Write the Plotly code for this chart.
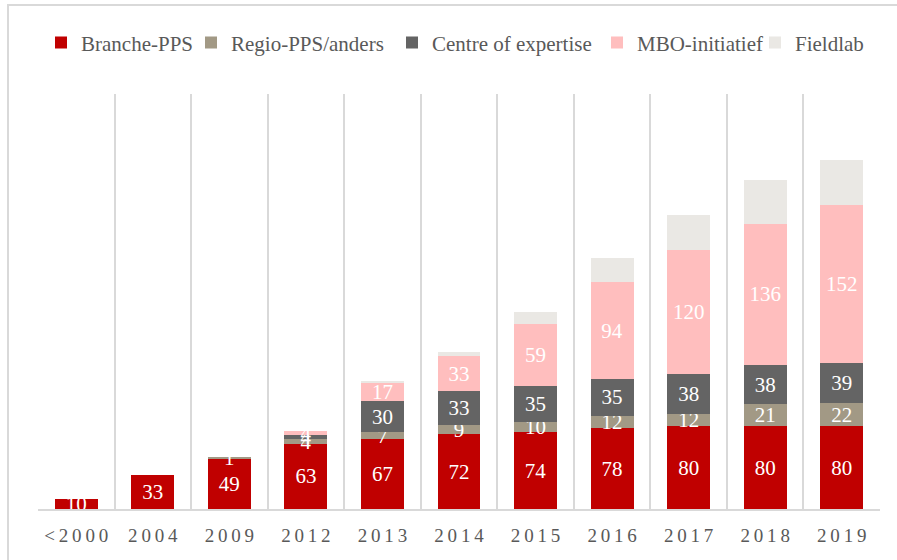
import plotly.graph_objects as go

categorieen = ['<2000', '2004', '2009', '2012', '2013', '2014', '2015', '2016', '2017', '2018', '2019']

branche_pps = [10, 33, 49, 63, 67, 72, 74, 78, 80, 80, 80]
regio_pps = [0, 0, 1, 4, 7, 9, 10, 12, 12, 21, 22]
centre_of_expertise = [0, 0, 0, 4, 30, 33, 35, 35, 38, 38, 39]
mbo_initiatief = [0, 0, 0, 4, 17, 33, 59, 94, 120, 136, 152]
fieldlab = [0, 0, 0, 0, 2, 4, 12, 23, 33, 42, 43]

reeksen = [
    ('Branche-PPS', branche_pps, '#C00000', True),
    ('Regio-PPS/anders', regio_pps, '#A29985', True),
    ('Centre of expertise', centre_of_expertise, '#646464', True),
    ('MBO-initiatief', mbo_initiatief, '#FFBEBE', True),
    ('Fieldlab', fieldlab, '#EAE8E4', False),
]

FONT = 'Liberation Serif, Times New Roman, serif'
GRIJS = '#D9D9D9'

# plotgebied in pixels (voor het plaatsen van de legenda's)
L, R, T, B = 38, 17, 94, 51
PLOT_W = 897 - L - R
# x-positie (px) waar de tekst van elk legenda-item begint
legenda_tekst_x = [81, 231, 432, 637, 795]

fig = go.Figure()
for i, (naam, waarden, kleur, labels) in enumerate(reeksen):
    # lege labels voor nulwaarden, Fieldlab zonder labels
    tekst = [str(v) if (labels and v > 0) else '' for v in waarden]
    fig.add_trace(go.Bar(
        x=categorieen, y=waarden, name=naam,
        marker=dict(color=kleur, line=dict(width=0)),
        text=tekst, textposition='inside', insidetextanchor='middle', textangle=0,
        textfont=dict(color='white', size=21, family=FONT),
        cliponaxis=False, hoverinfo='x+y+name', showlegend=True,
        legend='legend' if i == 0 else f'legend{i + 1}',
    ))

# elk item een eigen legenda, zodat de afstanden net als in het origineel zijn
legendas = {}
for i, tx in enumerate(legenda_tekst_x):
    key = 'legend' if i == 0 else f'legend{i + 1}'
    legendas[key] = dict(x=(tx - 40 - L) / PLOT_W, xanchor='left',
                         y=1.123, yanchor='middle', orientation='h', visible=True,
                         font=dict(size=21, color='#595959', family=FONT),
                         itemwidth=30, bgcolor='rgba(0,0,0,0)', borderwidth=0)

# tick labels met wat extra letterafstand
ticktekst = ['\u2009'.join(c) for c in categorieen]

fig.update_layout(
    barmode='stack',
    bargap=0.44,
    width=897, height=560,
    margin=dict(l=L, r=R, t=T, b=B),
    paper_bgcolor='white', plot_bgcolor='white',
    font=dict(family=FONT, color='#595959'),
    showlegend=True,
    uniformtext=dict(minsize=21, mode='show'),
    xaxis=dict(tickmode='array', tickvals=categorieen, ticktext=ticktekst,
               tickson='boundaries', showgrid=True, gridcolor=GRIJS, gridwidth=2,
               showline=True, linecolor=GRIJS, linewidth=2, ticks='',
               ticklabelstandoff=8,
               tickfont=dict(size=19, color='#595959'), fixedrange=True,
               automargin=False),
    yaxis=dict(range=[0, 400], visible=False, fixedrange=True, automargin=False),
    shapes=[dict(type='rect', xref='paper', yref='paper',
                 x0=(8 - L) / PLOT_W, x1=1.2, y0=-0.5, y1=(560 - B - 5) / (560 - T - B),
                 line=dict(color=GRIJS, width=2), layer='below')],
    **legendas,
)

fig.write_html('out.html', config={'displayModeBar': False},
               post_script="document.body.style.margin='0';")
